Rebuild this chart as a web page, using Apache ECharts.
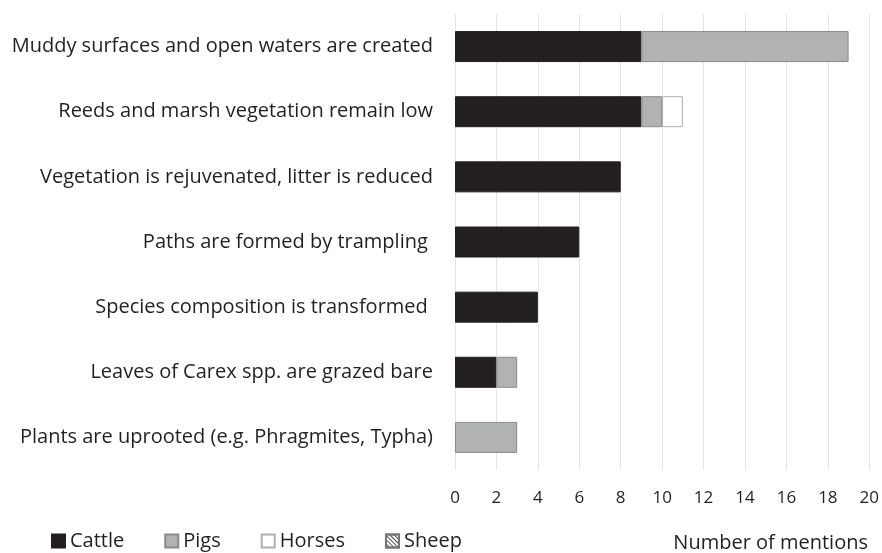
<!DOCTYPE html>
<html>
<head>
<meta charset="utf-8">
<script src="https://cdn.jsdelivr.net/npm/echarts@6/dist/echarts.min.js"></script>
<style>
  html, body { margin: 0; padding: 0; background: #fff; }
  #chart { width: 882px; height: 553px; }
</style>
</head>
<body>
<div id="chart"></div>
<script>
// categories, top to bottom
const categories = [
  'Muddy surfaces and open waters are created',
  'Reeds and marsh vegetation remain low',
  'Vegetation is rejuvenated, litter is reduced',
  'Paths are formed by trampling ',
  'Species composition is transformed ',
  'Leaves of Carex spp. are grazed bare',
  'Plants are uprooted (e.g. Phragmites, Typha)'
]
const cattle = [9, 9, 8, 6, 4, 2, 0]
const pigs = [10, 1, 0, 0, 0, 1, 3]
const horses = [0, 1, 0, 0, 0, 0, 0]
const sheep = [0, 0, 0, 0, 0, 0, 0]

const font = 'Open Sans, Liberation Sans, sans-serif'
const textColor = '#231f20'

const chart = echarts.init(document.getElementById('chart'))

function bar(name, data, color, border) {
  return {
    name,
    type: 'bar',
    stack: 'total',
    data: data.map(v => (v === 0 ? null : v)),
    barWidth: 31,
    itemStyle: { color, borderColor: border, borderWidth: 1 },
    emphasis: { disabled: true }
  }
}

const sheepSeries = bar('Sheep', sheep, '#ffffff', '#777')
sheepSeries.itemStyle.decal = {
  symbol: 'rect',
  symbolSize: 1,
  color: '#555',
  dashArrayX: [1, 0],
  dashArrayY: [1, 1.5],
  rotation: Math.PI / 4
}

chart.setOption({
  animation: false,
  grid: { left: 455, right: 9, top: 14, bottom: 83, containLabel: false },
  title: {
    text: 'Number of mentions',
    right: 9,
    bottom: -5,
    textStyle: { fontFamily: font, fontSize: 20, fontWeight: 'normal', color: textColor }
  },
  legend: {
    left: 46,
    bottom: -3,
    itemWidth: 13,
    itemHeight: 13,
    itemGap: 40,
    icon: 'rect',
    textStyle: { fontFamily: font, fontSize: 20, color: textColor },
    data: ['Cattle', 'Pigs', 'Horses', 'Sheep']
  },
  xAxis: {
    type: 'value',
    min: 0,
    max: 20,
    interval: 2,
    axisLine: { show: false },
    axisTick: { show: false },
    axisLabel: { fontFamily: font, fontSize: 17, color: textColor, margin: 20 },
    splitLine: { lineStyle: { color: '#e4e4e4' } }
  },
  yAxis: {
    type: 'category',
    inverse: true,
    data: categories,
    axisLine: { show: false },
    axisTick: { show: false },
    axisLabel: { fontFamily: font, fontSize: 20, color: textColor, margin: 22 }
  },
  series: [
    bar('Cattle', cattle, '#231f20', '#231f20'),
    bar('Pigs', pigs, '#b1b2b4', '#8a8a8c'),
    bar('Horses', horses, '#ffffff', '#b0b0b0'),
    sheepSeries
  ]
})
</script>
</body>
</html>
